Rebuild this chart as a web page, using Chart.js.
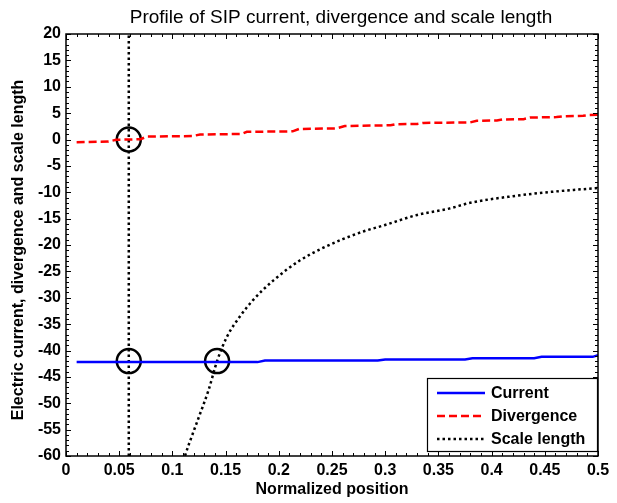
<!DOCTYPE html>
<html>
<head>
<meta charset="utf-8">
<script src="https://cdn.jsdelivr.net/npm/chart.js@4/dist/chart.umd.min.js"></script>
<style>
  html, body { margin: 0; padding: 0; background: #fff; }
  #wrap { width: 617px; height: 503px; }
</style>
</head>
<body>
<div id="wrap"><canvas id="c" width="617" height="503"></canvas></div>
<script>
// Text
const chartTitle = 'Profile of SIP current, divergence and scale length';
const xAxisTitle = 'Normalized position';
const yAxisTitle = 'Electric current, divergence and scale length';
const seriesNames = ['Current', 'Divergence', 'Scale length'];

// Axis ranges
const xRange = [0, 0.5];
const yRange = [-60, 20];

// Current
const currentX = [0.01, 0.18, 0.187, 0.293, 0.3, 0.375, 0.382, 0.44, 0.447, 0.495, 0.5];
const currentY = [-42.2, -42.2, -41.9, -41.9, -41.7, -41.7, -41.45, -41.45, -41.2, -41.2, -40.9];

// Divergence
const divergenceX = [0.01, 0.04, 0.047, 0.07, 0.076, 0.119, 0.126, 0.165, 0.17, 0.213, 0.219, 0.254, 0.262, 0.305,
                     0.31, 0.33, 0.336, 0.38, 0.386, 0.405, 0.41, 0.43, 0.436, 0.461, 0.467, 0.486, 0.492, 0.5];
const divergenceY = [-0.5, -0.4, -0.05, 0.05, 0.55, 0.65, 0.95, 1.05, 1.45, 1.55, 2.0, 2.1, 2.55, 2.7,
                     2.9, 2.95, 3.15, 3.25, 3.55, 3.6, 3.8, 3.85, 4.15, 4.25, 4.4, 4.5, 4.65, 4.7];

// Scale length
const scaleX = [0.108, 0.112, 0.118, 0.126, 0.134, 0.142, 0.151, 0.164, 0.176, 0.195, 0.22,
                0.24, 0.26, 0.28, 0.3, 0.33, 0.36, 0.38, 0.42, 0.46, 0.5];
const scaleY = [-63, -59.9, -56.4, -52.0, -47.5, -42.0, -37.5, -33.4, -30.4, -26.7, -22.9,
                -20.7, -18.9, -17.4, -16.2, -14.3, -13.1, -12.0, -10.75, -9.85, -9.2];

// Marked position and highlighted points
const markerX = 0.059;
const circleX = [0.059, 0.059, 0.142];
const circleY = [0, -42, -42];

const FONT = "'Liberation Sans', Arial, Helvetica, sans-serif";
const pts = (xs, ys) => xs.map((x, i) => ({ x, y: ys[i] }));

// Frame, inward ticks on all four sides, legend, title and y label
const framePlugin = {
  id: 'frame',
  afterDatasetsDraw(chart) {
    const { ctx, chartArea: a, scales: { x, y } } = chart;
    ctx.save();
    ctx.strokeStyle = '#000';
    ctx.lineWidth = 1;
    ctx.beginPath();
    for (let i = 0; i <= 50; i++) {
      const v = xRange[0] + i * 0.01;
      const px = Math.round(x.getPixelForValue(v)) + 0.5;
      const len = i % 5 === 0 ? 5 : 3;
      ctx.moveTo(px, a.bottom); ctx.lineTo(px, a.bottom - len);
      ctx.moveTo(px, a.top); ctx.lineTo(px, a.top + len);
    }
    for (let v = yRange[0]; v <= yRange[1]; v++) {
      const py = Math.round(y.getPixelForValue(v)) + 0.5;
      const len = v % 5 === 0 ? 5 : 3;
      ctx.moveTo(a.left, py); ctx.lineTo(a.left + len, py);
      ctx.moveTo(a.right, py); ctx.lineTo(a.right - len, py);
    }
    ctx.stroke();
    ctx.lineWidth = 1.5;
    ctx.strokeRect(a.left, a.top, a.right - a.left, a.bottom - a.top);

    // legend box in the lower right corner
    const bw = 171, bh = 74;
    const bx = a.right - bw, by = a.bottom - 4 - bh;
    ctx.fillStyle = '#fff';
    ctx.fillRect(bx, by, bw, bh);
    ctx.lineWidth = 1.2;
    ctx.strokeRect(bx + 0.5, by + 0.5, bw - 1, bh - 1);
    ctx.font = 'bold 16px ' + FONT;
    ctx.textBaseline = 'middle';
    ctx.textAlign = 'left';
    seriesNames.forEach((name, i) => {
      const ds = chart.data.datasets[i];
      const ry = by + 15 + i * 23;
      ctx.strokeStyle = ds.borderColor;
      ctx.lineWidth = ds.borderWidth;
      ctx.setLineDash(ds.borderDash || []);
      ctx.beginPath();
      ctx.moveTo(bx + 10, ry); ctx.lineTo(bx + 58, ry);
      ctx.stroke();
      ctx.setLineDash([]);
      ctx.fillStyle = '#000';
      ctx.fillText(name, bx + 64, ry + 1);
    });

    // chart title
    ctx.fillStyle = '#000';
    ctx.font = '19px ' + FONT;
    ctx.textAlign = 'center';
    ctx.textBaseline = 'alphabetic';
    ctx.fillText(chartTitle, (a.left + a.right) / 2 + 9, 23);

    // y axis label
    ctx.font = 'bold 16px ' + FONT;
    ctx.translate(19, (a.top + a.bottom) / 2 + 5);
    ctx.rotate(-Math.PI / 2);
    ctx.textBaseline = 'middle';
    ctx.fillText(yAxisTitle, 0, 0);
    ctx.restore();
  }
};

new Chart(document.getElementById('c'), {
  type: 'scatter',
  data: {
    datasets: [
      { label: seriesNames[0], data: pts(currentX, currentY), showLine: true,
        borderColor: '#0000ff', borderWidth: 2.5, pointRadius: 0 },
      { label: seriesNames[1], data: pts(divergenceX, divergenceY), showLine: true,
        borderColor: '#ff0000', borderWidth: 2.5, borderDash: [8, 4], pointRadius: 0 },
      { label: seriesNames[2], data: pts(scaleX, scaleY), showLine: true,
        borderColor: '#000000', borderWidth: 2.5, borderDash: [2.5, 3], pointRadius: 0,
        cubicInterpolationMode: 'monotone', clip: 0 },
      { label: 'marker', data: pts([markerX, markerX], yRange), showLine: true,
        borderColor: '#000000', borderWidth: 2.5, borderDash: [2.5, 3], pointRadius: 0 },
      { label: 'circles', data: pts(circleX, circleY), showLine: false,
        pointRadius: 12, pointBorderWidth: 2.5, pointBorderColor: '#000',
        pointBackgroundColor: 'rgba(0,0,0,0)', pointHoverRadius: 12 }
    ]
  },
  options: {
    responsive: false,
    animation: false,
    devicePixelRatio: 1,
    layout: { padding: { top: 34, right: 19, left: 0, bottom: 0 } },
    plugins: { legend: { display: false }, title: { display: false }, tooltip: { enabled: false } },
    scales: {
      x: {
        type: 'linear', min: xRange[0], max: xRange[1],
        grid: { display: false, drawTicks: false },
        border: { display: false },
        ticks: { stepSize: 0.05, padding: 5, color: '#000', maxRotation: 0,
                 font: { family: FONT, size: 16, weight: 'bold' },
                 callback: v => String(+v.toFixed(2)) },
        title: { display: true, text: xAxisTitle, color: '#000',
                 font: { family: FONT, size: 16, weight: 'bold' }, padding: { top: 0, bottom: 4 } },
        afterFit: s => { s.height = 47; }
      },
      y: {
        type: 'linear', min: yRange[0], max: yRange[1],
        grid: { display: false, drawTicks: false },
        border: { display: false },
        ticks: { stepSize: 5, padding: 5, color: '#000',
                 font: { family: FONT, size: 16, weight: 'bold' } },
        afterFit: s => { s.width = 66; }
      }
    }
  },
  plugins: [framePlugin]
});
</script>
</body>
</html>
